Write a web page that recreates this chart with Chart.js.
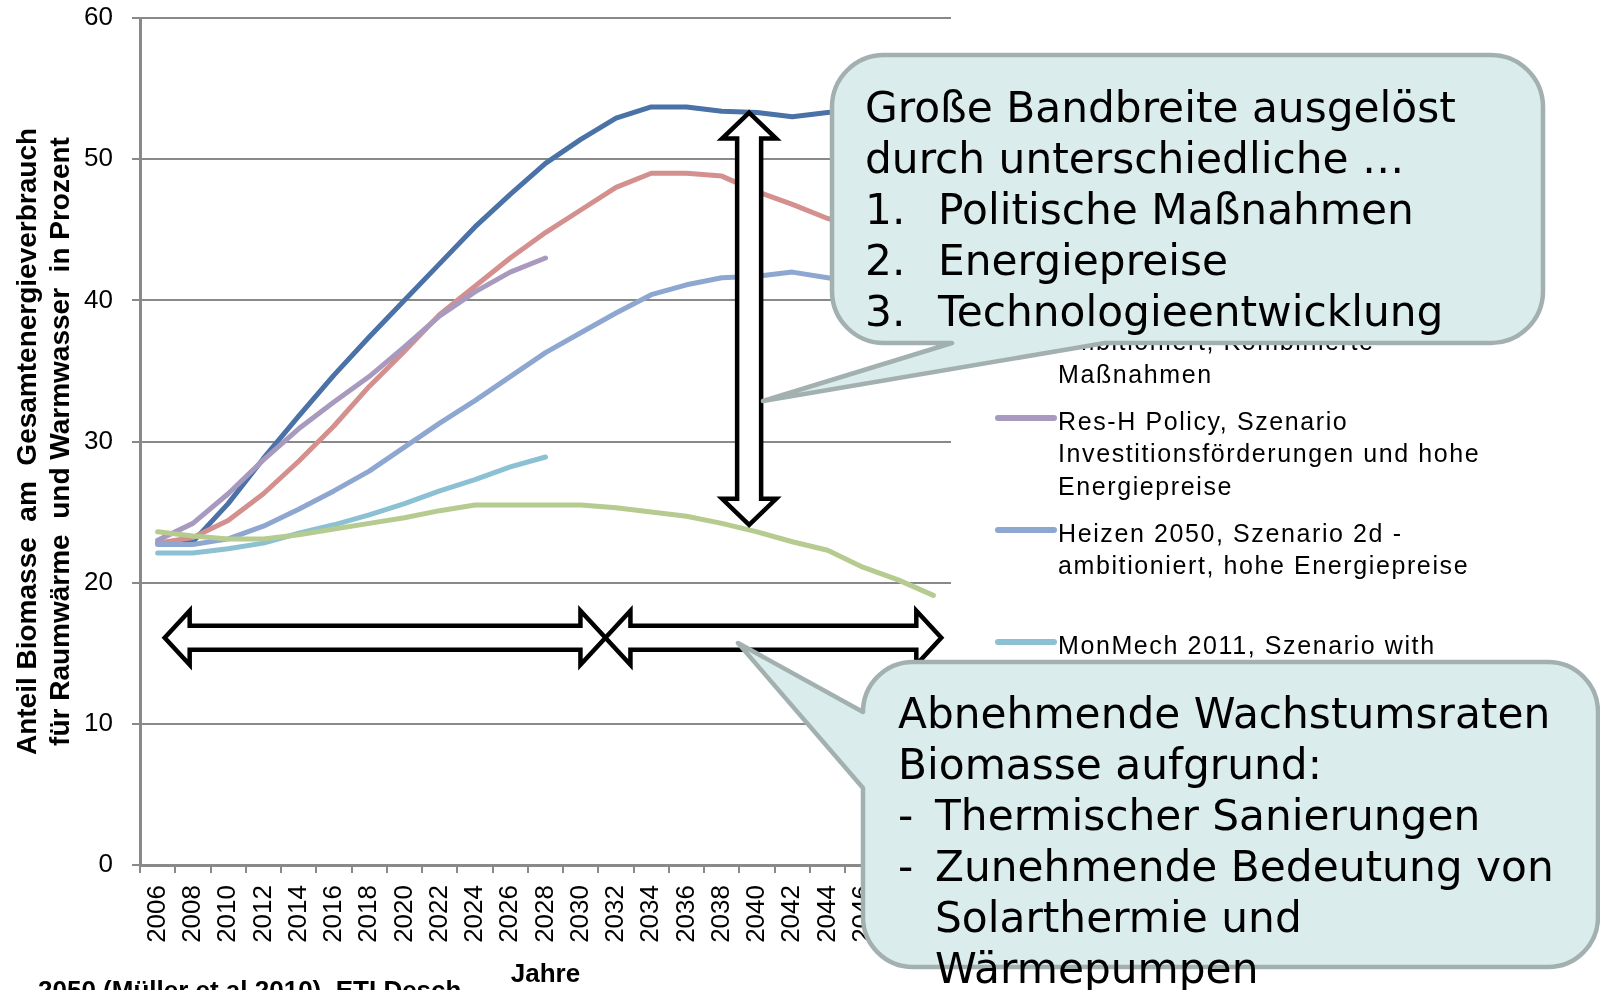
<!DOCTYPE html>
<html lang="de">
<head>
<meta charset="utf-8">
<title>Anteil Biomasse – Szenarien</title>
<script src="https://cdn.jsdelivr.net/npm/chart.js"></script>
<style>
  html, body { margin: 0; padding: 0; background: #fff; }
  body { width: 1600px; height: 990px; overflow: hidden; position: relative; font-family: "Liberation Sans", Arial, sans-serif; }
  #wrap { position: absolute; left: 0; top: 0; width: 1600px; height: 990px; }
  .legend-item { position: absolute; left: 995px; width: 600px; }
  .legend-item .swatch { position: absolute; left: 0; top: 10px; width: 62px; height: 6px; border-radius: 3px; }
  .legend-item .text { position: absolute; left: 63px; top: 0; font-size: 25px; line-height: 32.3px; letter-spacing: 1.6px; white-space: nowrap; color: #000; }
  svg.callouts { position: absolute; left: 0; top: 0; }
  .bubble-text { position: absolute; font-family: "DejaVu Sans", Verdana, sans-serif; font-size: 42.3px; line-height: 51px; color: #000; white-space: nowrap; }
  .num { display: inline-block; width: 73px; }
  .dash { display: inline-block; width: 37px; }
  #source { position: absolute; left: 38px; top: 977px; font-size: 26px; font-weight: bold; line-height: 26px; white-space: nowrap; color: #000; }
</style>
</head>
<body>
<div id="wrap"><canvas id="chart" width="1600" height="990"></canvas></div>
<div id="legend"></div>
<div id="source">2050 (Müller et al 2010), ETI Desch</div>

<svg class="callouts" width="1600" height="990" viewBox="0 0 1600 990">
  <path d="M 884 55 H 1491 A 52 52 0 0 1 1543 107 V 291 A 52 52 0 0 1 1491 343 H 1105 L 763 401 L 952 343 H 884 A 52 52 0 0 1 832 291 V 107 A 52 52 0 0 1 884 55 Z"
        fill="#dbeced" stroke="#a3b0b0" stroke-width="4.5" stroke-linejoin="round"/>
  <path d="M 913 662 H 1548 A 50 50 0 0 1 1598 712 V 917 A 50 50 0 0 1 1548 967 H 913 A 50 50 0 0 1 863 917 V 788 L 738 643 L 863 712 A 50 50 0 0 1 913 662 Z"
        fill="#dbeced" stroke="#a3b0b0" stroke-width="4.5" stroke-linejoin="round"/>
</svg>

<div class="bubble-text" style="left:865px; top:82px;">
  Große Bandbreite ausgelöst<br>
  durch unterschiedliche …<br>
  <span class="num">1.</span>Politische Maßnahmen<br>
  <span class="num">2.</span>Energiepreise<br>
  <span class="num">3.</span>Technologieentwicklung
</div>
<div class="bubble-text" style="left:898px; top:688px;">
  Abnehmende Wachstumsraten<br>
  Biomasse aufgrund:<br>
  <span class="dash">-</span>Thermischer Sanierungen<br>
  <span class="dash">-</span>Zunehmende Bedeutung von<br>
  <span class="dash"></span>Solarthermie und<br>
  <span class="dash"></span>Wärmepumpen
</div>

<script>
// x categories (every second year)
const years = ["2006", "2008", "2010", "2012", "2014", "2016", "2018", "2020", "2022", "2024", "2026", "2028",
               "2030", "2032", "2034", "2036", "2038", "2040", "2042", "2044", "2046", "2048", "2050"];

// share of biomass in %
const heizen3 = [22.8, 22.9, 25.6, 28.8, 31.8, 34.7, 37.4, 40.0, 42.6, 45.2, 47.5, 49.7,
                 51.4, 52.9, 53.7, 53.7, 53.4, 53.3, 53.0, 53.3, 53.5, 53.6, 53.7];
const heizen2c = [22.8, 23.2, 24.4, 26.3, 28.6, 31.1, 33.9, 36.4, 39.0, 41.0, 43.0, 44.8,
                  46.4, 48.0, 49.0, 49.0, 48.8, 47.7, 46.8, 45.8, 45.0, 44.3, 43.6];
const resHPolicy = [23.0, 24.2, 26.3, 28.7, 30.9, 32.8, 34.6, 36.7, 38.9, 40.6, 42.0, 43.0];
const heizen2d = [22.7, 22.7, 23.1, 24.0, 25.2, 26.5, 27.9, 29.6, 31.3, 32.9, 34.6, 36.3,
                  37.7, 39.1, 40.4, 41.1, 41.6, 41.7, 42.0, 41.6, 41.2, 40.8, 40.5];
const monMech2011 = [22.1, 22.1, 22.4, 22.8, 23.5, 24.1, 24.8, 25.6, 26.5, 27.3, 28.2, 28.9];
const referenz = [23.6, 23.3, 23.1, 23.1, 23.4, 23.8, 24.2, 24.6, 25.1, 25.5, 25.5, 25.5,
                  25.5, 25.3, 25.0, 24.7, 24.2, 23.6, 22.9, 22.3, 21.1, 20.2, 19.1];

const seriesData = [heizen3, heizen2c, resHPolicy, heizen2d, monMech2011, referenz];
const seriesColors = ["#4a72a7", "#d4908f", "#a899bf", "#8ea7d0", "#8cc1d4", "#b5cb8f"];
const seriesLabels = [
  ["Heizen 2050,  Szenario  3d -", "ambitioniert, Kombinierte", "Maßnahmen, hohe Energiepreise"],
  ["Heizen 2050,  Szenario  2c -", "ambitioniert, Kombinierte", "Maßnahmen"],
  ["Res-H Policy, Szenario", "Investitionsförderungen und hohe", "Energiepreise"],
  ["Heizen 2050,  Szenario  2d -", "ambitioniert, hohe Energiepreise"],
  ["MonMech 2011,  Szenario  with", "additional measures"],
  ["Energieszenarien,  Szenario", "Referenz"]
];

// y axis ticks
const yMin = 0, yMax = 60, yStep = 10;

// annotation arrows (years / percent)
const periodBounds = [2006.4, 2031.4, 2050.45];
const periodLevel = 16.1;
const spreadYear = 2039.55;
const spreadRange = [24.1, 53.3];

const yearToIndex = yr => (yr - 2006) / 2;

// legend (drawn as html so the callouts can sit on top of it)
const legendTops = [181, 293, 405, 517, 629, 741];
const legendEl = document.getElementById("legend");
seriesLabels.forEach((lines, i) => {
  const item = document.createElement("div");
  item.className = "legend-item";
  item.style.top = legendTops[i] + "px";
  const sw = document.createElement("div");
  sw.className = "swatch";
  sw.style.background = seriesColors[i];
  const tx = document.createElement("div");
  tx.className = "text";
  tx.innerHTML = lines.join("<br>");
  item.appendChild(sw);
  item.appendChild(tx);
  legendEl.appendChild(item);
});

function hArrow(ctx, x1, x2, y, shaft, head, headLen) {
  ctx.beginPath();
  ctx.moveTo(x1, y);
  ctx.lineTo(x1 + headLen, y - head);
  ctx.lineTo(x1 + headLen, y - shaft);
  ctx.lineTo(x2 - headLen, y - shaft);
  ctx.lineTo(x2 - headLen, y - head);
  ctx.lineTo(x2, y);
  ctx.lineTo(x2 - headLen, y + head);
  ctx.lineTo(x2 - headLen, y + shaft);
  ctx.lineTo(x1 + headLen, y + shaft);
  ctx.lineTo(x1 + headLen, y + head);
  ctx.closePath();
  ctx.fill();
  ctx.stroke();
}

function vArrow(ctx, x, yTop, yBot, shaft, head, headLen) {
  ctx.beginPath();
  ctx.moveTo(x, yTop);
  ctx.lineTo(x + head, yTop + headLen);
  ctx.lineTo(x + shaft, yTop + headLen);
  ctx.lineTo(x + shaft, yBot - headLen);
  ctx.lineTo(x + head, yBot - headLen);
  ctx.lineTo(x, yBot);
  ctx.lineTo(x - head, yBot - headLen);
  ctx.lineTo(x - shaft, yBot - headLen);
  ctx.lineTo(x - shaft, yTop + headLen);
  ctx.lineTo(x - head, yTop + headLen);
  ctx.closePath();
  ctx.fill();
  ctx.stroke();
}

const arrowPlugin = {
  id: "arrows",
  afterDatasetsDraw(chart) {
    const { ctx, scales: { x, y } } = chart;
    ctx.save();
    ctx.fillStyle = "#fff";
    ctx.strokeStyle = "#000";
    ctx.lineWidth = 4.5;
    ctx.lineJoin = "miter";
    const py = y.getPixelForValue(periodLevel);
    for (let i = 0; i < periodBounds.length - 1; i++) {
      hArrow(ctx, x.getPixelForValue(yearToIndex(periodBounds[i])),
             x.getPixelForValue(yearToIndex(periodBounds[i + 1])), py, 12, 27, 25);
    }
    vArrow(ctx, x.getPixelForValue(yearToIndex(spreadYear)),
           y.getPixelForValue(spreadRange[1]), y.getPixelForValue(spreadRange[0]), 12, 27, 26);
    ctx.restore();
  }
};

const gridGray = "#898989";

new Chart(document.getElementById("chart"), {
  type: "line",
  data: {
    labels: years,
    datasets: seriesData.map((d, i) => ({
      label: seriesLabels[i].join(" "),
      data: d,
      borderColor: seriesColors[i],
      backgroundColor: seriesColors[i],
      borderWidth: 5,
      pointRadius: 0,
      tension: 0,
      fill: false,
      borderCapStyle: "round",
      borderJoinStyle: "round",
      order: seriesData.length - i
    }))
  },
  options: {
    responsive: false,
    animation: false,
    devicePixelRatio: 1,
    layout: { padding: { top: 18, right: 649, bottom: 0, left: 0 } },
    plugins: { legend: { display: false }, tooltip: { enabled: false } },
    scales: {
      x: {
        type: "category",
        offset: true,
        afterFit: s => { s.height = 125; },
        grid: { drawOnChartArea: false, offset: true, tickLength: 8, color: gridGray, lineWidth: 2 },
        border: { color: gridGray, width: 3 },
        ticks: {
          autoSkip: false, minRotation: 90, maxRotation: 90, padding: 12, color: "#000",
          font: { family: "'Liberation Sans', Arial, sans-serif", size: 26 }
        },
        title: {
          display: true, text: "Jahre", color: "#000",
          font: { family: "'Liberation Sans', Arial, sans-serif", size: 26, weight: "bold", lineHeight: 1.2 },
          padding: { top: 0, bottom: 0 }
        }
      },
      y: {
        min: yMin, max: yMax,
        afterFit: s => { s.width = 140; s.paddingTop = 0; s.paddingBottom = 0; },
        grid: { color: gridGray, lineWidth: 2, tickLength: 8 },
        border: { color: gridGray, width: 3 },
        ticks: {
          stepSize: yStep, padding: 19, color: "#000",
          font: { family: "'Liberation Sans', Arial, sans-serif", size: 26 }
        },
        title: {
          display: true,
          text: ["Anteil Biomasse  am  Gesamtenergieverbrauch", "für Raumwärme  und Warmwasser  in Prozent"],
          color: "#000",
          font: { family: "'Liberation Sans', Arial, sans-serif", size: 28, weight: "bold", lineHeight: 1.18 },
          padding: { top: 12, bottom: 0 }
        }
      }
    }
  },
  plugins: [arrowPlugin]
});
</script>
</body>
</html>
